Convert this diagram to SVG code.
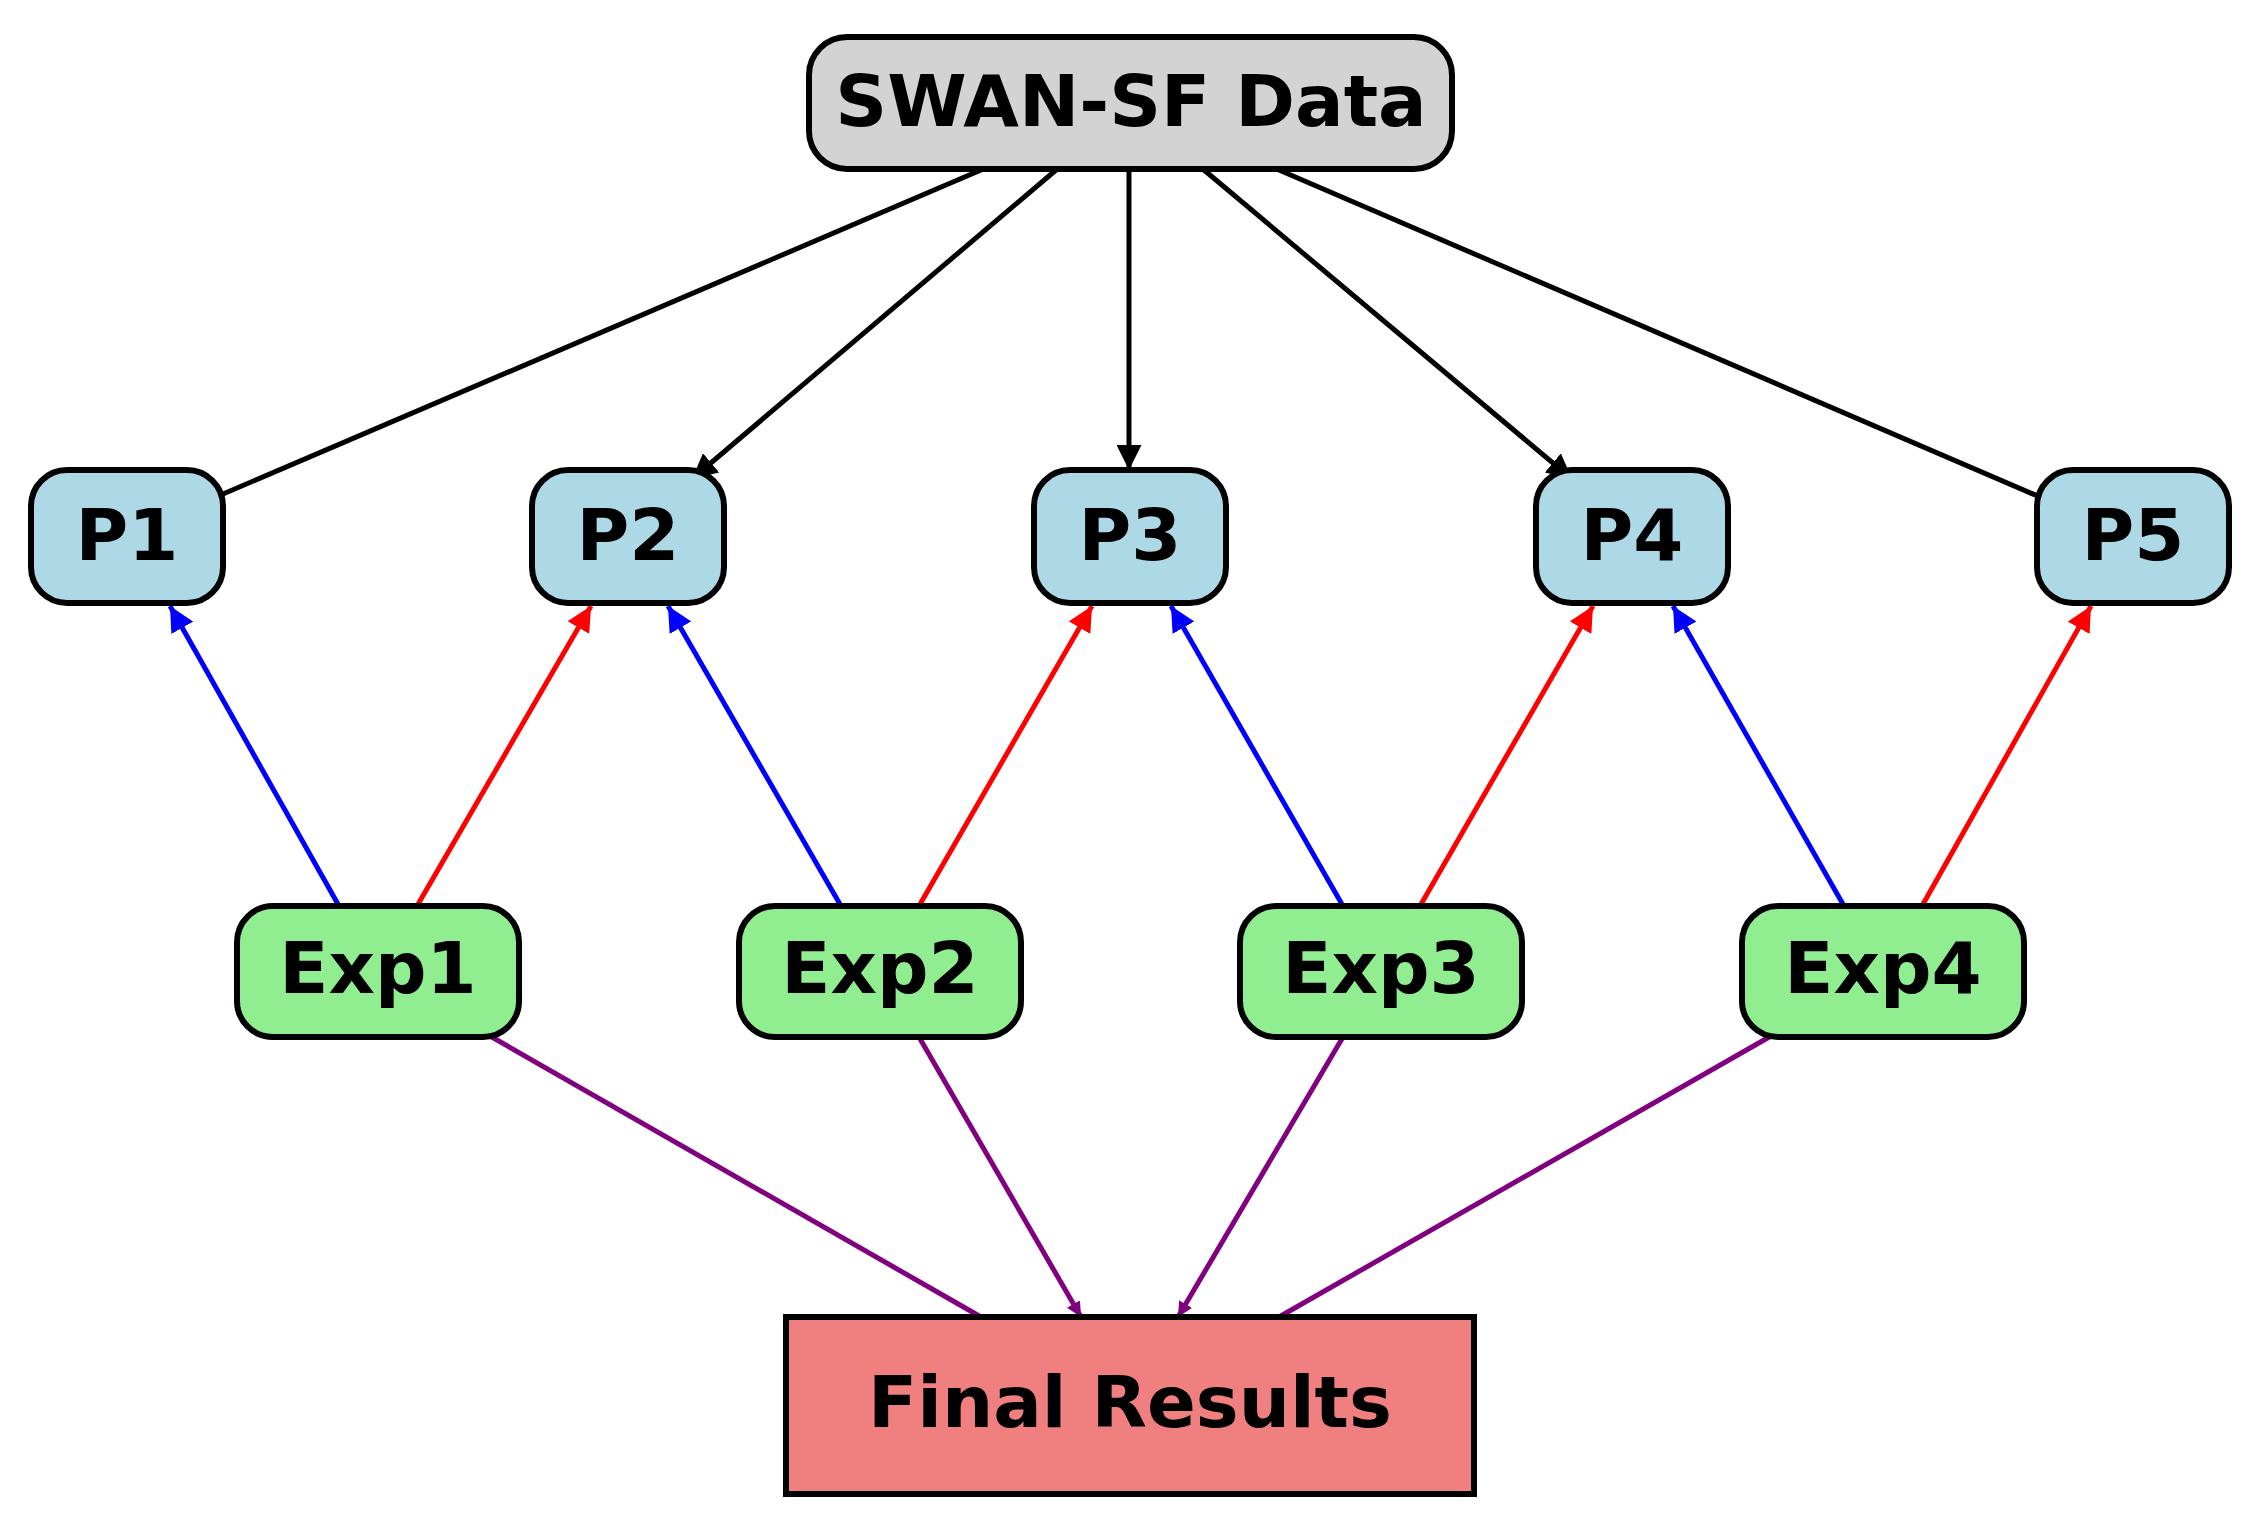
<svg xmlns="http://www.w3.org/2000/svg" width="2261" height="1532" viewBox="0 0 2261 1532">
<style>
.n{stroke:#000;stroke-width:6}
.t{font-family:"DejaVu Sans",sans-serif;font-weight:bold;font-size:72px;text-anchor:middle;dominant-baseline:central;fill:#000}
.e{fill:none;stroke-width:5}
</style>
<defs>
<marker id="ak" viewBox="0 0 10 10" refX="10" refY="5" markerWidth="5" markerHeight="5" orient="auto" markerUnits="strokeWidth"><path d="M0,0L10,5L0,10z" fill="#000"/></marker>
<marker id="ab" viewBox="0 0 10 10" refX="10" refY="5" markerWidth="5" markerHeight="5" orient="auto" markerUnits="strokeWidth"><path d="M0,0L10,5L0,10z" fill="#00f"/></marker>
<marker id="ar" viewBox="0 0 10 10" refX="10" refY="5" markerWidth="5" markerHeight="5" orient="auto" markerUnits="strokeWidth"><path d="M0,0L10,5L0,10z" fill="#f00"/></marker>
<marker id="ap" viewBox="0 0 10 10" refX="10" refY="5" markerWidth="3" markerHeight="3" orient="auto" markerUnits="strokeWidth"><path d="M0,0L10,5L0,10z" fill="#800080"/></marker>
</defs>
<g id="connectors">
<line class="e" stroke="#000" x1="981" y1="170" x2="216" y2="497"/>
<line class="e" stroke="#000" x1="1056" y1="170" x2="692" y2="479" marker-end="url(#ak)"/>
<line class="e" stroke="#000" x1="1129" y1="170" x2="1129" y2="470" marker-end="url(#ak)"/>
<line class="e" stroke="#000" x1="1204" y1="170" x2="1572" y2="479" marker-end="url(#ak)"/>
<line class="e" stroke="#000" x1="1279" y1="170" x2="2040" y2="497"/>
<line class="e" stroke="#00f" x1="339" y1="906" x2="170" y2="606" marker-end="url(#ab)"/>
<line class="e" stroke="#f00" x1="417" y1="906" x2="591" y2="606" marker-end="url(#ar)"/>
<line class="e" stroke="#00f" x1="841" y1="906" x2="668" y2="606" marker-end="url(#ab)"/>
<line class="e" stroke="#f00" x1="919" y1="906" x2="1092" y2="606" marker-end="url(#ar)"/>
<line class="e" stroke="#00f" x1="1343" y1="906" x2="1171" y2="606" marker-end="url(#ab)"/>
<line class="e" stroke="#f00" x1="1420" y1="906" x2="1593" y2="606" marker-end="url(#ar)"/>
<line class="e" stroke="#00f" x1="1844" y1="906" x2="1673" y2="606" marker-end="url(#ab)"/>
<line class="e" stroke="#f00" x1="1922" y1="906" x2="2091" y2="606" marker-end="url(#ar)"/>
<line class="e" stroke="#800080" x1="490" y1="1036" x2="981" y2="1317"/>
<line class="e" stroke="#800080" x1="919" y1="1037" x2="1081" y2="1317" marker-end="url(#ap)"/>
<line class="e" stroke="#800080" x1="1343" y1="1037" x2="1178" y2="1317" marker-end="url(#ap)"/>
<line class="e" stroke="#800080" x1="1771" y1="1036" x2="1279" y2="1317"/>
</g>
<g id="swan"><rect class="n" x="809" y="37" width="643" height="132" rx="38" fill="#d3d3d3"/><text class="t" x="1131" y="101">SWAN-SF Data</text></g>
<g id="p1"><rect class="n" x="31" y="470" width="192" height="133" rx="36" fill="#add8e6"/><text class="t" x="127" y="535">P1</text></g>
<g id="p2"><rect class="n" x="532" y="470" width="192" height="133" rx="36" fill="#add8e6"/><text class="t" x="628" y="535">P2</text></g>
<g id="p3"><rect class="n" x="1034" y="470" width="192" height="133" rx="36" fill="#add8e6"/><text class="t" x="1130" y="535">P3</text></g>
<g id="p4"><rect class="n" x="1536" y="470" width="192" height="133" rx="36" fill="#add8e6"/><text class="t" x="1632" y="535">P4</text></g>
<g id="p5"><rect class="n" x="2037" y="470" width="192" height="133" rx="36" fill="#add8e6"/><text class="t" x="2133" y="535">P5</text></g>
<g id="exp1"><rect class="n" x="237" y="906" width="282" height="131" rx="36" fill="#90ee90"/><text class="t" x="378" y="968">Exp1</text></g>
<g id="exp2"><rect class="n" x="739" y="906" width="282" height="131" rx="36" fill="#90ee90"/><text class="t" x="880" y="968">Exp2</text></g>
<g id="exp3"><rect class="n" x="1240" y="906" width="282" height="131" rx="36" fill="#90ee90"/><text class="t" x="1381" y="968">Exp3</text></g>
<g id="exp4"><rect class="n" x="1742" y="906" width="282" height="131" rx="36" fill="#90ee90"/><text class="t" x="1883" y="968">Exp4</text></g>
<g id="final"><rect class="n" x="786" y="1317" width="688" height="177" fill="#f08080"/><text class="t" x="1130" y="1402">Final Results</text></g>
</svg>
